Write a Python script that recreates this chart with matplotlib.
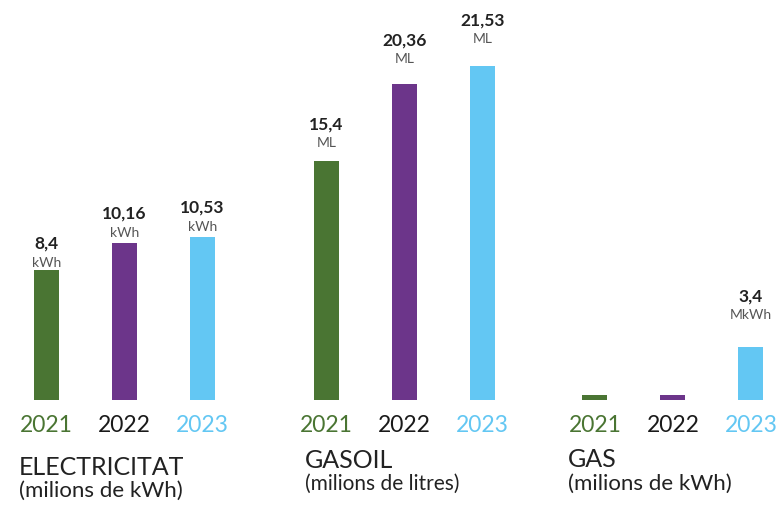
import matplotlib
matplotlib.use("Agg")
import matplotlib.pyplot as plt

# ---- data ----
categories = ["ELECTRICITAT", "GASOIL", "GAS"]
subtitles = ["(milions de kWh)", "(milions de litres)", "(milions de kWh)"]
years = ["2021", "2022", "2023"]
electricitat = [8.4, 10.16, 10.53]
gasoil = [15.4, 20.36, 21.53]
gas = [0.35, 0.35, 3.4]
electricitat_labels = ["8,4", "10,16", "10,53"]
gasoil_labels = ["15,4", "20,36", "21,53"]
gas_labels = [None, None, "3,4"]
units = ["kWh", "ML", "MkWh"]

series = [electricitat, gasoil, gas]
series_labels = [electricitat_labels, gasoil_labels, gas_labels]

# ---- style / layout ----
bar_colors = ["#4a7533", "#6c358a", "#63c7f3"]
year_colors = ["#4a7533", "#1a1a1a", "#63c7f3"]
FONT = "Lato"
W, H = 778, 505
BASE = 400          # baseline pixel row
SCALE = 15.5        # pixels per unit
group_x = [46.5, 326.5, 595]
step = 78
bar_w = 25
unit_gap_px = [[3, 6, 6], [14, 21, 23], [0, 0, 28]]
title_x = [19, 305, 568]
title_base = [475, 468, 467]
sub_base = [497, 490, 490]
title_size = 18
sub_size = [16, 15, 16]

fig = plt.figure(figsize=(W / 100, H / 100), dpi=100)
ax = fig.add_axes([0, 0, 1, 1])
ax.set_xlim(0, W)
ax.set_ylim(-(H - BASE) / SCALE, BASE / SCALE)
ax.axis("off")


def py(ypx):
    return (BASE - ypx) / SCALE


pt = 72 / 100  # points per pixel

for g, vals in enumerate(series):
    xs = [group_x[g] + i * step for i in range(len(vals))]
    ax.bar(xs, vals, width=bar_w, color=bar_colors, linewidth=0)
    for i, (x, v) in enumerate(zip(xs, vals)):
        lab = series_labels[g][i]
        if lab is not None:
            gap = unit_gap_px[g][i]
            ax.annotate(units[g], xy=(x, v), xytext=(0, gap * pt),
                        textcoords="offset points", ha="center", va="baseline",
                        fontsize=10, color="#555555", family=FONT)
            ax.annotate(lab, xy=(x, v), xytext=(0, (gap + 18) * pt),
                        textcoords="offset points", ha="center", va="baseline",
                        fontsize=12.5, fontweight="bold", color="#222222",
                        family=FONT)
        ax.text(x, py(432), years[i], ha="center", va="baseline",
                fontsize=16.5, color=year_colors[i], family=FONT)
    ax.text(title_x[g], py(title_base[g]), categories[g], ha="left",
            va="baseline", fontsize=title_size, color="#222222", family=FONT)
    ax.text(title_x[g], py(sub_base[g]), subtitles[g], ha="left",
            va="baseline", fontsize=sub_size[g], color="#222222", family=FONT)

fig.savefig("out.png", dpi=100, facecolor="white")
